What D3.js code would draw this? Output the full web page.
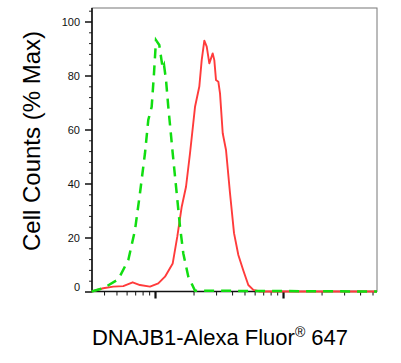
<!DOCTYPE html>
<html>
<head>
<meta charset="utf-8">
<script src="https://cdn.jsdelivr.net/npm/d3@7"></script>
<style>
  body { margin: 0; background: #fff; }
  svg text { font-family: "Liberation Sans", Arial, sans-serif; }
</style>
</head>
<body>
<svg id="svg" width="401" height="363"></svg>
<script>
// control (green, dashed) - x is fluorescence intensity, y is % max
const greenX = [32, 39.4, 51.7, 61.9, 69.8, 76.3, 83.5, 88.6, 94.2, 98.2, 101.8, 108, 114.8, 117.6, 121.9, 127, 137.5, 147.7, 156.8, 166.4, 182, 205.4, 5420]
const greenY = [0, 1.2, 4.5, 11.7, 22.8, 36.4, 51.2, 63.5, 68.4, 80.8, 93.1, 91.3, 82.7, 83.9, 78.3, 68.4, 51.2, 36.4, 24, 14.1, 5.5, 0.3, 0]
// DNAJB1 stained (red, solid)
const redX = [32, 39.4, 47.2, 56.5, 66.9, 76.3, 91.4, 106.1, 119.7, 137.5, 149.3, 161.7, 174.7, 187.7, 205.4, 221.9, 231.6, 242.8, 253.5, 265.6, 282.3, 290.6, 299.6, 312.3, 322, 338, 358.6, 385.4, 414.2, 447.6, 489.6, 535.6, 586.1, 661.2, 5420]
const redY = [0, 1.2, 1.8, 2.0, 3.4, 2.4, 1.8, 3.0, 5.5, 10.4, 20.3, 31.4, 38.8, 51.2, 68.4, 75.9, 85.7, 92.9, 90.7, 84.5, 88.2, 85.7, 78.3, 77.7, 73.4, 58.6, 52.4, 36.4, 21.6, 13.5, 7.8, 2.4, 0.6, 0, 0]

const yMajor = [0, 20, 40, 60, 80, 100]
const xMajor = [100, 1000]
const xLabel = "DNAJB1-Alexa Fluor"
const yLabel = "Cell Counts (% Max)"

const mLeft = 92, mRight = 377, mTop = 8, mBottom = 291.5

const x = d3.scaleLog().domain([32.2, 5420]).range([mLeft, mRight])
const y = d3.scaleLinear().domain([0, 100]).range([mBottom, 21.5])

const svg = d3.select("#svg")

// frame
svg.append("rect").attr("x", mLeft).attr("y", mTop).attr("width", mRight - mLeft).attr("height", mBottom - mTop)
  .attr("fill", "none").attr("stroke", "#777").attr("stroke-width", 1)

// y axis: minor then major
const yMinor = d3.range(0, 105, 4).filter(v => v % 20 !== 0)
svg.append("g").attr("transform", `translate(${mLeft},0)`)
  .call(d3.axisLeft(y).tickValues(yMinor).tickSize(3).tickFormat(""))
  .call(g => g.select(".domain").remove())
  .call(g => g.selectAll("line").attr("stroke", "#222"))
const yAx = svg.append("g").attr("transform", `translate(${mLeft},0)`)
  .call(d3.axisLeft(y).tickValues(yMajor).tickSize(7).tickPadding(5))
yAx.select(".domain").remove()
yAx.selectAll("line").attr("stroke", "#111").attr("stroke-width", 1.5)
yAx.selectAll("text").attr("font-size", 11).attr("fill", "#111")
  .attr("font-family", "Liberation Sans, Arial, sans-serif")
  .attr("dy", d => d === 0 ? "-0.05em" : "0.32em")
svg.append("line").attr("x1", mLeft).attr("x2", mLeft).attr("y1", mTop).attr("y2", mBottom + 0.5)
  .attr("stroke", "#111").attr("stroke-width", 1.6)

// x axis: log ticks
const xMinor = x.ticks().filter(v => !xMajor.includes(v) && v > 32.2 && v < 5420)
svg.append("g").attr("transform", `translate(0,${mBottom})`)
  .call(d3.axisBottom(x).tickValues(xMinor).tickSize(4).tickFormat(""))
  .call(g => g.select(".domain").remove())
  .call(g => g.selectAll("line").attr("stroke", "#111"))
svg.append("g").attr("transform", `translate(0,${mBottom})`)
  .call(d3.axisBottom(x).tickValues(xMajor).tickSize(7).tickFormat(""))
  .call(g => g.select(".domain").remove())
  .call(g => g.selectAll("line").attr("stroke", "#111").attr("stroke-width", 2.2))
svg.append("line").attr("x1", mLeft).attr("x2", mRight).attr("y1", mBottom).attr("y2", mBottom)
  .attr("stroke", "#111").attr("stroke-width", 1.5)

// curves
const line = d3.line().x(d => x(d[0])).y(d => y(d[1])).curve(d3.curveLinear)
svg.append("path").attr("d", line(d3.zip(redX, redY)))
  .attr("fill", "none").attr("stroke", "#ff3b3b").attr("stroke-width", 1.9).attr("stroke-linejoin", "round")
svg.append("path").attr("d", line(d3.zip(greenX, greenY)))
  .attr("fill", "none").attr("stroke", "#11dd11").attr("stroke-width", 2.5)
  .attr("stroke-dasharray", "10,7")

// labels
svg.append("text").attr("transform", `translate(40,141) rotate(-90)`)
  .attr("text-anchor", "middle").attr("font-size", 24).attr("fill", "#000").text(yLabel)
const xl = svg.append("text").attr("x", 220).attr("y", 345)
  .attr("text-anchor", "middle").attr("font-size", 22).attr("fill", "#000")
xl.append("tspan").text(xLabel)
xl.append("tspan").attr("font-size", 14).attr("dy", -8).text("®")
xl.append("tspan").attr("dy", 8).text(" 647")
</script>
</body>
</html>
